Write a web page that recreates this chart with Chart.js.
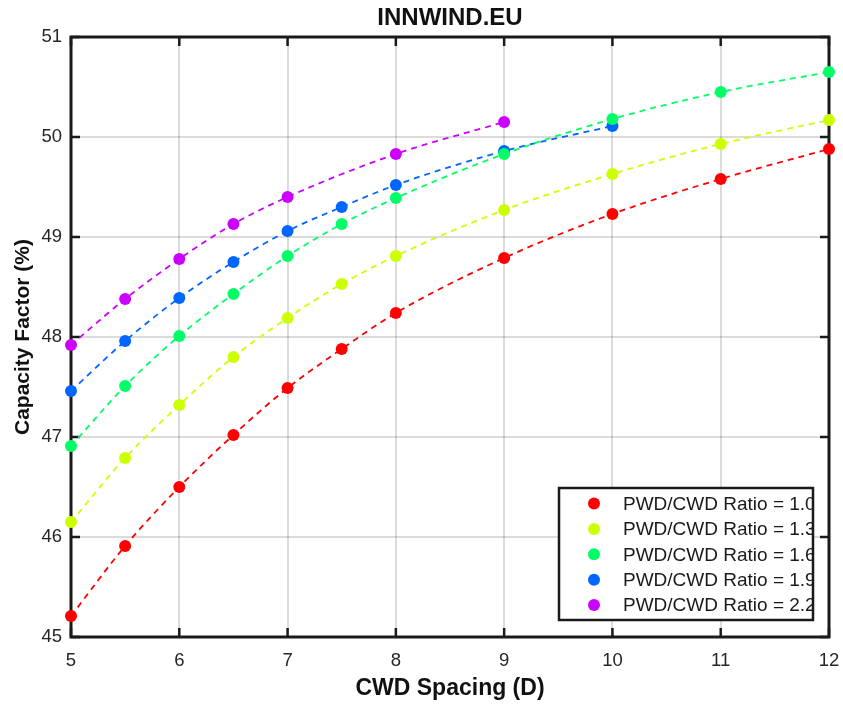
<!DOCTYPE html>
<html>
<head>
<meta charset="utf-8">
<script src="https://cdn.jsdelivr.net/npm/chart.js@4"></script>
<style>
  body { margin: 0; background: #fff; }
  #wrap { width: 843px; height: 705px; }
</style>
</head>
<body>
<div id="wrap"><canvas id="cfChart" width="843" height="705"></canvas></div>
<script>
// CWD spacing (D) for each series
const xFull = [5, 5.5, 6, 6.5, 7, 7.5, 8, 9, 10, 11, 12];
const xRatio19 = [5, 5.5, 6, 6.5, 7, 7.5, 8, 9, 10];
const xRatio22 = [5, 5.5, 6, 6.5, 7, 8, 9];

// capacity factor (%)
const cf10 = [45.21, 45.91, 46.50, 47.02, 47.49, 47.88, 48.24, 48.79, 49.23, 49.58, 49.88];
const cf13 = [46.15, 46.79, 47.32, 47.80, 48.19, 48.53, 48.81, 49.27, 49.63, 49.93, 50.17];
const cf16 = [46.91, 47.51, 48.01, 48.43, 48.81, 49.13, 49.39, 49.83, 50.18, 50.45, 50.65];
const cf19 = [47.46, 47.96, 48.39, 48.75, 49.06, 49.30, 49.52, 49.86, 50.11];
const cf22 = [47.92, 48.38, 48.78, 49.13, 49.40, 49.83, 50.15];

const ratios = [1.0, 1.3, 1.6, 1.9, 2.2];
const colors = ['#ff0000', '#ccff00', '#00ff66', '#0066ff', '#cc00ff'];

const xTicks = [5, 6, 7, 8, 9, 10, 11, 12];
const yTicks = [45, 46, 47, 48, 49, 50, 51];

const FONT = "'Liberation Sans', Arial, Helvetica, sans-serif";

function pts(xs, ys) {
    return xs.map((x, i) => ({ x: x, y: ys[i] }));
}

const seriesX = [xFull, xFull, xFull, xRatio19, xRatio22];
const seriesY = [cf10, cf13, cf16, cf19, cf22];

const datasets = ratios.map((r, i) => ({
    label: 'PWD/CWD Ratio = ' + r.toFixed(1),
    data: pts(seriesX[i], seriesY[i]),
    borderColor: colors[i],
    backgroundColor: colors[i],
    borderWidth: 1.8,
    borderDash: [6, 5],
    cubicInterpolationMode: 'monotone',
    pointRadius: 6,
    pointBorderWidth: 0,
    pointHoverRadius: 6,
    clip: false
}));

// box, inward tick marks on all four sides
const framePlugin = {
    id: 'frame',
    beforeDatasetsDraw(chart) {
        const { ctx, chartArea: a, scales } = chart;
        ctx.save();
        ctx.strokeStyle = '#1a1a1a';
        ctx.lineWidth = 2.5;
        ctx.beginPath();
        xTicks.forEach(v => {
            const px = scales.x.getPixelForValue(v);
            ctx.moveTo(px, a.bottom); ctx.lineTo(px, a.bottom - 9);
            ctx.moveTo(px, a.top); ctx.lineTo(px, a.top + 9);
        });
        yTicks.forEach(v => {
            const py = scales.y.getPixelForValue(v);
            ctx.moveTo(a.left, py); ctx.lineTo(a.left + 9, py);
            ctx.moveTo(a.right, py); ctx.lineTo(a.right - 9, py);
        });
        ctx.stroke();
        ctx.lineWidth = 3;
        ctx.strokeRect(a.left, a.top, a.right - a.left, a.bottom - a.top);
        ctx.restore();
    }
};

// legend box inside the plot, lower right
const legendPlugin = {
    id: 'boxLegend',
    afterDatasetsDraw(chart) {
        const ctx = chart.ctx;
        const L = 559, T = 488, R = 813, B = 620;
        ctx.save();
        ctx.fillStyle = '#fff';
        ctx.fillRect(L, T, R - L, B - T);
        ctx.beginPath();
        ctx.rect(L, T, R - L, B - T);
        ctx.clip();
        chart.data.datasets.forEach((ds, i) => {
            const cy = T + 15.5 + i * 25.4;
            ctx.fillStyle = ds.backgroundColor;
            ctx.beginPath();
            ctx.arc(594, cy, 6, 0, Math.PI * 2);
            ctx.fill();
            ctx.fillStyle = '#1a1a1a';
            ctx.font = '19px ' + FONT;
            ctx.textBaseline = 'middle';
            ctx.textAlign = 'left';
            ctx.fillText(ds.label, 623, cy + 1);
        });
        ctx.restore();
        ctx.save();
        ctx.strokeStyle = '#1a1a1a';
        ctx.lineWidth = 2.5;
        ctx.strokeRect(L, T, R - L, B - T);
        ctx.restore();
    }
};

const ctx = document.getElementById('cfChart').getContext('2d');
new Chart(ctx, {
    type: 'line',
    data: { datasets },
    options: {
        responsive: false,
        animation: false,
        layout: { padding: { left: 0, right: 14, top: 0, bottom: 0 } },
        plugins: {
            legend: { display: false },
            tooltip: { enabled: false },
            title: {
                display: true,
                text: 'INNWIND.EU',
                fullSize: false,
                color: '#111',
                font: { family: FONT, size: 24, weight: 'bold', lineHeight: 1.2 },
                padding: { top: 4, bottom: 4.2 }
            }
        },
        scales: {
            x: {
                type: 'linear',
                min: 5,
                max: 12,
                afterFit(scale) {
                    scale.height = 68;
                    scale.paddingLeft = 0;
                    scale.paddingRight = 0;
                },
                afterBuildTicks(scale) { scale.ticks = xTicks.map(v => ({ value: v })); },
                grid: { color: 'rgba(0,0,0,0.14)', lineWidth: 2, drawTicks: false },
                border: { display: false },
                ticks: {
                    color: '#262626',
                    padding: 13,
                    font: { family: FONT, size: 18.5 }
                },
                title: {
                    display: true,
                    text: 'CWD Spacing (D)',
                    color: '#111',
                    font: { family: FONT, size: 23, weight: 'bold', lineHeight: 1.2 },
                    padding: { top: 0, bottom: 3 }
                }
            },
            y: {
                type: 'linear',
                min: 45,
                max: 51,
                afterFit(scale) {
                    scale.width = 71;
                    scale.paddingTop = 0;
                    scale.paddingBottom = 0;
                },
                afterBuildTicks(scale) { scale.ticks = yTicks.map(v => ({ value: v })); },
                grid: { color: 'rgba(0,0,0,0.14)', lineWidth: 2, drawTicks: false },
                border: { display: false },
                ticks: {
                    color: '#262626',
                    padding: 9,
                    font: { family: FONT, size: 18.5 }
                },
                title: {
                    display: true,
                    text: 'Capacity Factor (%)',
                    color: '#111',
                    font: { family: FONT, size: 21, weight: 'bold', lineHeight: 1.2 },
                    padding: { top: 11, bottom: 0 }
                }
            }
        }
    },
    plugins: [framePlugin, legendPlugin]
});
</script>
</body>
</html>
